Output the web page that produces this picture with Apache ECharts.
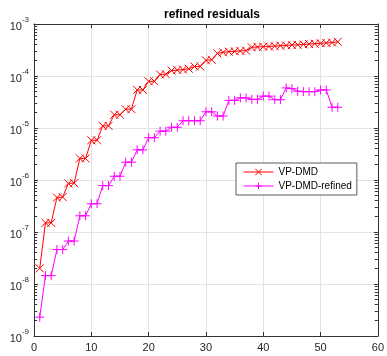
<!DOCTYPE html>
<html>
<head>
<meta charset="utf-8">
<script src="https://cdn.jsdelivr.net/npm/echarts@6/dist/echarts.min.js"></script>
<style>
  html, body { margin: 0; padding: 0; background: #fff; }
  #chart { width: 387px; height: 356px; }
</style>
</head>
<body>
<div id="chart"></div>
<script>
// Iteration index (x) and residual norms (y) for both methods
const iterations = [];
for (let i = 1; i <= 53; i++) iterations.push(i);

const vpDmd = [
  2.0e-8,
  1.5e-7, 1.5e-7,
  4.6e-7, 4.7e-7,
  8.6e-7, 8.7e-7,
  2.6e-6, 2.6e-6,
  5.8e-6, 5.8e-6,
  1.1e-5, 1.1e-5,
  1.8e-5, 1.8e-5,
  2.3e-5, 2.3e-5,
  5.4e-5, 5.4e-5,
  7.9e-5, 7.9e-5,
  1.07e-4, 1.08e-4,
  1.27e-4, 1.30e-4,
  1.33e-4, 1.38e-4,
  1.52e-4, 1.53e-4,
  2.00e-4, 2.05e-4,
  2.72e-4, 2.85e-4,
  2.93e-4, 2.98e-4,
  3.03e-4, 3.08e-4,
  3.55e-4, 3.62e-4, 3.66e-4, 3.70e-4, 3.76e-4, 3.82e-4, 3.88e-4, 3.93e-4,
  3.98e-4, 4.05e-4, 4.12e-4, 4.18e-4, 4.25e-4, 4.32e-4, 4.40e-4, 4.55e-4
];

const vpDmdRefined = [
  2.3e-9,
  1.45e-8, 1.45e-8,
  4.6e-8, 4.6e-8,
  6.7e-8, 6.7e-8,
  2.05e-7, 2.05e-7,
  3.5e-7, 3.5e-7,
  7.8e-7, 7.8e-7,
  1.18e-6, 1.18e-6,
  2.2e-6, 2.2e-6,
  3.8e-6, 3.8e-6,
  6.5e-6, 6.5e-6,
  8.7e-6, 8.7e-6,
  1.03e-5, 1.03e-5,
  1.38e-5, 1.38e-5,
  1.38e-5, 1.38e-5,
  2.05e-5, 2.05e-5,
  1.7e-5, 1.7e-5,
  3.4e-5, 3.4e-5,
  3.8e-5, 3.8e-5,
  3.55e-5, 3.55e-5,
  4.1e-5, 4.1e-5,
  3.5e-5, 3.5e-5,
  5.9e-5, 5.7e-5,
  5.1e-5, 5.0e-5,
  5.0e-5, 5.0e-5,
  5.4e-5, 5.4e-5,
  2.5e-5, 2.5e-5
];

const seriesNames = ['VP-DMD', 'VP-DMD-refined'];
const xTicks = [0, 10, 20, 30, 40, 50, 60];
const yDecades = [-9, -8, -7, -6, -5, -4, -3];

// Minor log positions 2..9 x 10^k inside each decade
const minorValues = [];
for (let k = yDecades[0]; k < yDecades[yDecades.length - 1]; k++) {
  for (let m = 2; m <= 9; m++) minorValues.push(m * Math.pow(10, k));
}

const xMin = xTicks[0], xMax = xTicks[xTicks.length - 1];
const yMin = Math.pow(10, yDecades[0]), yMax = Math.pow(10, yDecades[yDecades.length - 1]);

const FONT = 'Liberation Sans, Arial, Helvetica, sans-serif';
const AXIS_COLOR = '#333333';
const TEXT_COLOR = '#262626';

const CROSS = 'path://M0,0L10,10M10,0L0,10';
const PLUS = 'path://M5,0L5,10M0,5L10,5';

const tickLen = 0.55; // minor tick length in x units

const chart = echarts.init(document.getElementById('chart'), null, { renderer: 'canvas' });

chart.setOption({
  animation: false,
  backgroundColor: '#ffffff',
  title: {
    text: 'refined residuals',
    left: 207,
    textAlign: 'center',
    top: 4,
    textStyle: { fontFamily: FONT, fontSize: 12, fontWeight: 'bold', color: '#000' }
  },
  grid: { left: 34, right: 7, top: 24, bottom: 20, containLabel: false },
  legend: {
    data: seriesNames,
    orient: 'vertical',
    left: 236,
    top: 163,
    padding: [4, 5, 4, 7],
    itemGap: 4,
    itemWidth: 30,
    itemHeight: 8,
    backgroundColor: '#ffffff',
    borderColor: AXIS_COLOR,
    borderWidth: 0.8,
    borderRadius: 0,
    lineStyle: { width: 1 },
    itemStyle: { borderWidth: 1 },
    textStyle: { fontFamily: FONT, fontSize: 10, color: '#000' }
  },
  xAxis: [
    {
      type: 'value', min: xMin, max: xMax, interval: 10, position: 'bottom',
      axisLine: { show: true, onZero: false, lineStyle: { color: AXIS_COLOR, width: 1 } },
      axisTick: { show: true, inside: true, length: 4, lineStyle: { color: AXIS_COLOR } },
      axisLabel: { show: true, margin: 6, fontFamily: FONT, fontSize: 11, color: TEXT_COLOR },
      splitLine: { show: true, lineStyle: { color: '#e3e3e3', width: 1 } }
    },
    {
      type: 'value', min: xMin, max: xMax, interval: 10, position: 'top',
      axisLine: { show: true, onZero: false, lineStyle: { color: AXIS_COLOR, width: 1 } },
      axisTick: { show: true, inside: true, length: 4, lineStyle: { color: AXIS_COLOR } },
      axisLabel: { show: false },
      splitLine: { show: false }
    }
  ],
  yAxis: [
    {
      type: 'log', logBase: 10, min: yMin, max: yMax, splitNumber: 6, position: 'left',
      axisLine: { show: true, onZero: false, lineStyle: { color: AXIS_COLOR, width: 1 } },
      axisTick: { show: true, inside: true, length: 4, lineStyle: { color: AXIS_COLOR } },
      axisLabel: {
        show: true, margin: 5, fontFamily: FONT, color: TEXT_COLOR,
        formatter: function (v) {
          return '{b|10}{s|' + Math.round(Math.log10(v)) + '}';
        },
        rich: {
          b: { fontFamily: FONT, fontSize: 11, color: TEXT_COLOR, lineHeight: 16, verticalAlign: 'bottom' },
          s: { fontFamily: FONT, fontSize: 8, color: TEXT_COLOR, lineHeight: 16, verticalAlign: 'top', padding: [0, 0, 6, 0] }
        }
      },
      splitLine: { show: true, lineStyle: { color: '#e3e3e3', width: 1 } }
    },
    {
      type: 'log', logBase: 10, min: yMin, max: yMax, splitNumber: 6, position: 'right',
      axisLine: { show: true, onZero: false, lineStyle: { color: AXIS_COLOR, width: 1 } },
      axisTick: { show: true, inside: true, length: 4, lineStyle: { color: AXIS_COLOR } },
      axisLabel: { show: false },
      splitLine: { show: false }
    }
  ],
  series: [
    {
      // dotted minor grid and minor ticks on the log axis
      name: 'minor', type: 'line', data: [], silent: true, z: 1,
      xAxisIndex: 0, yAxisIndex: 0,
      markLine: {
        silent: true, symbol: ['none', 'none'], animation: false,
        label: { show: false },
        data: minorValues.map(v => ({ yAxis: v, lineStyle: { type: [1, 2], color: '#c0c0c0', width: 1 } }))
          .concat(minorValues.map(v => [
            { coord: [xMin, v], lineStyle: { type: 'solid', color: AXIS_COLOR, width: 1 } },
            { coord: [xMin + tickLen, v] }
          ]))
          .concat(minorValues.map(v => [
            { coord: [xMax - tickLen, v], lineStyle: { type: 'solid', color: AXIS_COLOR, width: 1 } },
            { coord: [xMax, v] }
          ]))
      }
    },
    {
      name: seriesNames[0], type: 'line', z: 3,
      data: iterations.map((x, i) => [x, vpDmd[i]]),
      symbol: CROSS, symbolSize: 8, showSymbol: true,
      lineStyle: { color: '#ff0000', width: 1 },
      itemStyle: { color: 'rgba(0,0,0,0)', borderColor: '#ff0000', borderWidth: 1 }
    },
    {
      name: seriesNames[1], type: 'line', z: 4,
      data: iterations.map((x, i) => [x, vpDmdRefined[i]]),
      symbol: PLUS, symbolSize: 9, showSymbol: true,
      lineStyle: { color: '#ff00ff', width: 1 },
      itemStyle: { color: 'rgba(0,0,0,0)', borderColor: '#ff00ff', borderWidth: 1 }
    }
  ]
});
</script>
</body>
</html>
